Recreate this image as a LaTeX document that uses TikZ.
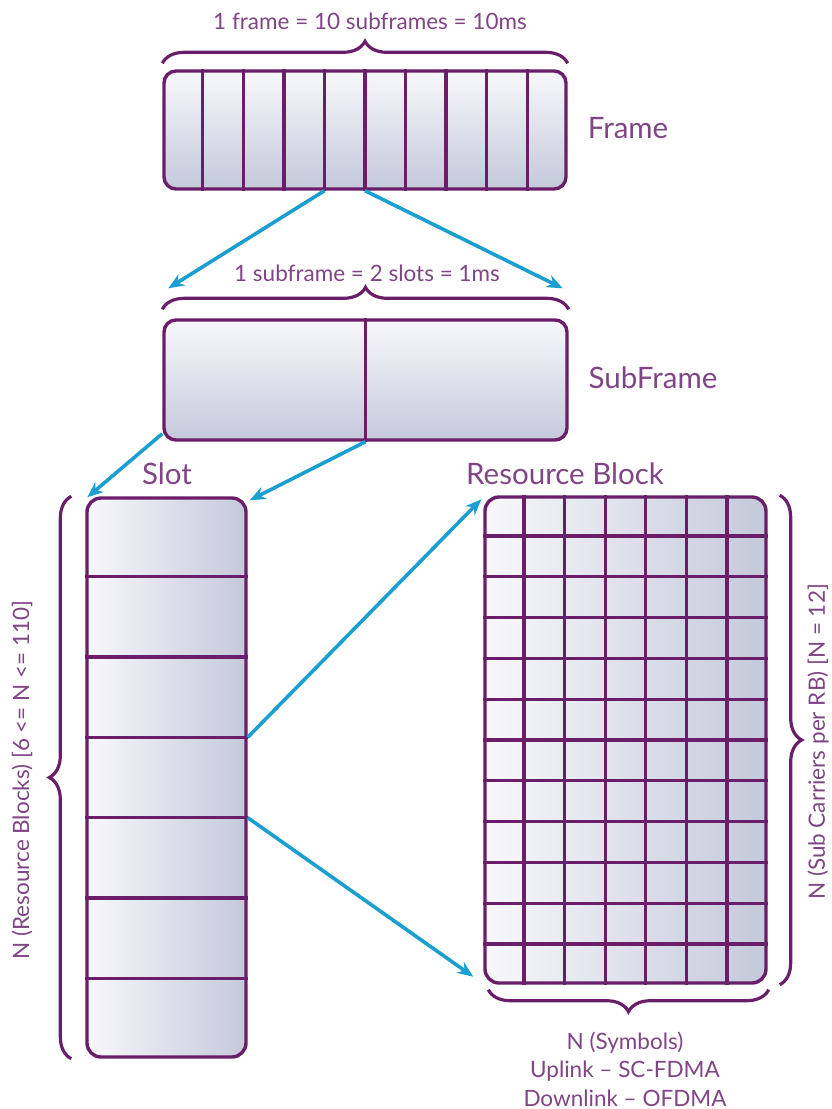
\documentclass[tikz,border=0pt]{standalone}
\usepackage{fontspec}
\setmainfont{Lato}
\usetikzlibrary{calc,arrows.meta,decorations.pathreplacing}
\definecolor{plum}{HTML}{6A1E6A}
\definecolor{plumtext}{HTML}{804585}
\definecolor{paleblue}{HTML}{F8F8FB}
\definecolor{greyblue}{HTML}{C4C9DB}
\definecolor{linkblue}{HTML}{1A9FD0}
\tikzset{
    vbox/.style={draw=plum, line width=3.4pt, rounded corners=12pt, top color=paleblue, bottom color=greyblue, inner sep=0pt},
    hbox/.style={draw=plum, line width=3.4pt, rounded corners=14pt, left color=paleblue, right color=greyblue, inner sep=0pt},
    cell/.style={draw=plum, line width=3.2pt},
    link/.style={draw=linkblue, line width=3.6pt, -{Stealth[length=16pt,width=13pt]}},
    curly/.style={draw=plum, line width=3.2pt, decorate, decoration={brace, amplitude=22pt}},
    title/.style={text=plumtext, font=\fontsize{29.5}{35}\selectfont},
    note/.style={text=plumtext, font=\fontsize{22.5}{28.5}\selectfont, align=center},
}

\begin{document}
\begin{tikzpicture}[x=1pt, y=-1pt]
\useasboundingbox (0,0) rectangle (832,1109);

% the boxes
\node[vbox, minimum width=402pt, minimum height=118pt] (frame) at (365,130) {};
\node[vbox, minimum width=403pt, minimum height=120pt] (subframe) at (365.5,380) {};
\node[hbox, minimum width=159pt, minimum height=559pt] (slot) at (166.5,777.5) {};
\node[hbox, minimum width=281pt, minimum height=486pt] (rb) at (625.5,740) {};

\foreach \i in {1,...,9}
    \draw[cell] ($(frame.north west)!\i/10!(frame.north east)$) -- coordinate[pos=1] (fs\i) ($(frame.south west)!\i/10!(frame.south east)$);
\draw[cell] (subframe.north) -- (subframe.south);
\foreach \i in {1,...,6}
    \draw[cell] ($(slot.north west)!\i/7!(slot.south west)$) -- coordinate[pos=1] (se\i) ($(slot.north east)!\i/7!(slot.south east)$);
\foreach \i in {1,...,6}
    \draw[cell] ($(rb.north west)!\i/7!(rb.north east)$) -- ($(rb.south west)!\i/7!(rb.south east)$);
\foreach \j in {1,...,11}
    \draw[cell] ($(rb.north west)!\j/12!(rb.south west)$) -- ($(rb.north east)!\j/12!(rb.south east)$);

% braces
\draw[curly] ([yshift=6pt]frame.north west) -- ([yshift=6pt]frame.north east);
\draw[curly] ([yshift=9pt]subframe.north west) -- ([yshift=9pt]subframe.north east);
\draw[curly] ([xshift=-14pt]slot.south west) -- ([xshift=-14pt]slot.north west);
\draw[curly] ([xshift=12pt]rb.north east) -- ([xshift=12pt]rb.south east);
\draw[curly] ([shift={(1pt,-5pt)}]rb.south east) -- ([shift={(5pt,-5pt)}]rb.south west);

% arrows
\draw[link] (fs4) -- ([shift={(6pt,30pt)}]subframe.north west);
\draw[link] (fs5) -- ([shift={(-6pt,30pt)}]subframe.north east);
\draw[link] ([yshift=8pt]subframe.south west) -- ([shift={(2pt,-1pt)}]slot.north west);
\draw[link] (subframe.south) -- ([shift={(2pt,-4pt)}]slot.north east);
\draw[link] (se3) -- ([shift={(-2pt,-4pt)}]rb.north west);
\draw[link] (se4) -- ([shift={(-10pt,8pt)}]rb.south west);

% labels
\node[note] (framenote) at (370,21) {1 frame = 10 subframes = 10ms};
\node[note] (subnote) at (367,273) {1 subframe = 2 slots = 1ms};
\node[title] (framelabel) at (628,128) {Frame};
\node[title] (sublabel) at (653,378) {SubFrame};
\node[title] (slotlabel) at (167,474) {Slot};
\node[title] (rblabel) at (565,474) {Resource Block};
\node[note, rotate=90] (rbcount) at (22,780) {N (Resource Blocks) [6 <= N <= 110]};
\node[note, rotate=90] (carriers) at (818,742) {N (Sub Carriers per RB) [N = 12]};
\node[note] (symbols) at (625,1069) {N (Symbols)\\Uplink – SC-FDMA\\Downlink – OFDMA};
\end{tikzpicture}
\end{document}
